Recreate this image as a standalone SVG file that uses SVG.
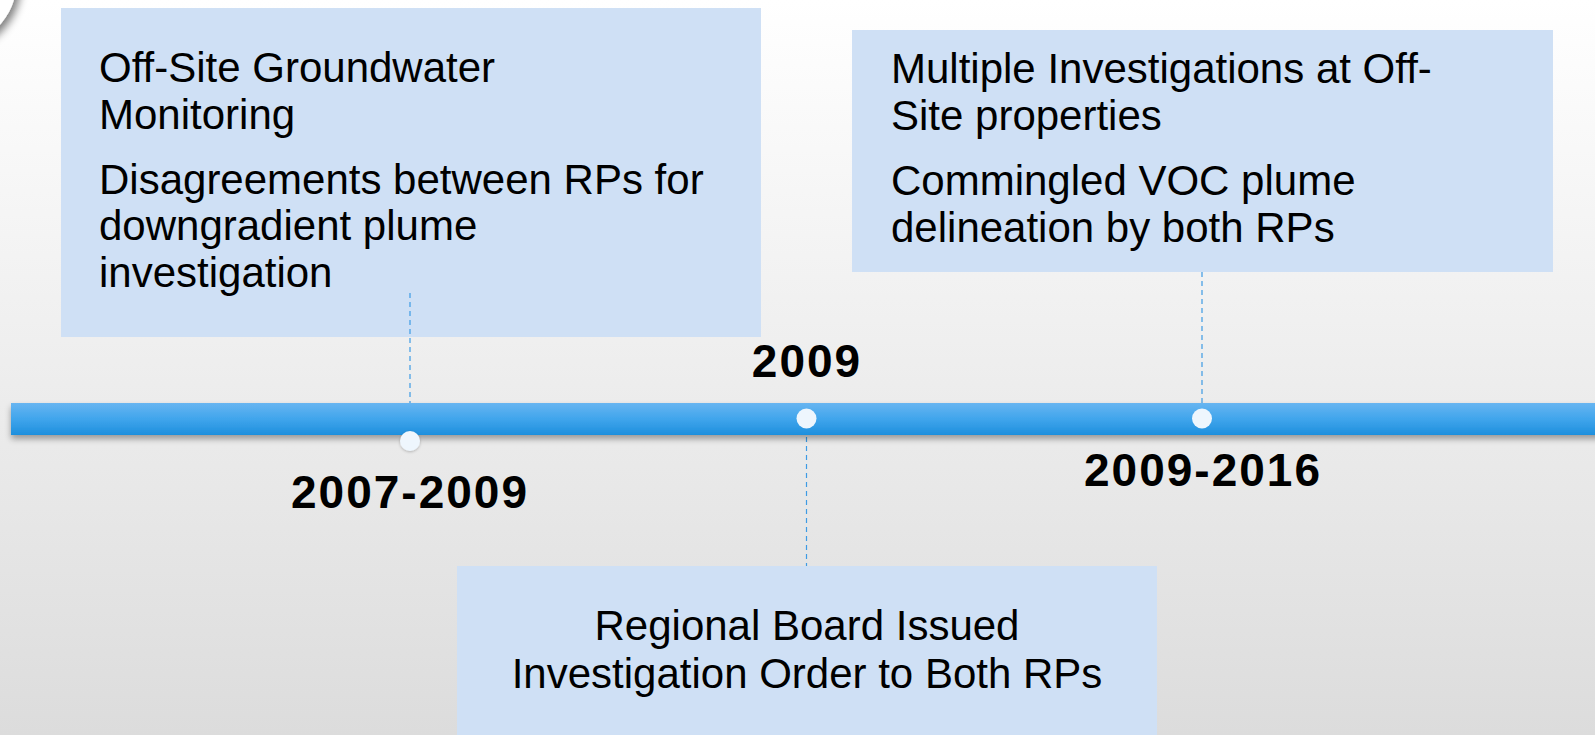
<svg xmlns="http://www.w3.org/2000/svg" width="1595" height="735" viewBox="0 0 1595 735">
  <defs>
    <linearGradient id="bg" x1="0" y1="0" x2="0" y2="1">
      <stop offset="0" stop-color="#ffffff"/>
      <stop offset="0.55" stop-color="#ececec"/>
      <stop offset="1" stop-color="#dcdcdc"/>
    </linearGradient>
    <linearGradient id="barFill" x1="0" y1="0" x2="0" y2="1">
      <stop offset="0" stop-color="#68b5f1"/>
      <stop offset="0.5" stop-color="#40a5ec"/>
      <stop offset="1" stop-color="#1e8fdd"/>
    </linearGradient>
    <filter id="barShadow" x="-5%" y="-50%" width="110%" height="220%">
      <feGaussianBlur in="SourceAlpha" stdDeviation="3"/>
      <feOffset dx="0" dy="4" result="b"/>
      <feComponentTransfer><feFuncA type="linear" slope="0.35"/></feComponentTransfer>
      <feMerge><feMergeNode/><feMergeNode in="SourceGraphic"/></feMerge>
    </filter>
    <filter id="cornerShadow" x="-50%" y="-50%" width="200%" height="200%">
      <feGaussianBlur in="SourceAlpha" stdDeviation="4"/>
      <feOffset dx="4" dy="4" result="b"/>
      <feComponentTransfer><feFuncA type="linear" slope="0.5"/></feComponentTransfer>
      <feMerge><feMergeNode/><feMergeNode in="SourceGraphic"/></feMerge>
    </filter>
    <filter id="dotShadow" x="-50%" y="-50%" width="200%" height="200%">
      <feGaussianBlur in="SourceAlpha" stdDeviation="1.5"/>
      <feOffset dx="0" dy="1" result="b"/>
      <feComponentTransfer><feFuncA type="linear" slope="0.25"/></feComponentTransfer>
      <feMerge><feMergeNode/><feMergeNode in="SourceGraphic"/></feMerge>
    </filter>
    <style>
      .box { fill: #cfe0f5; }
      .body { font-family: "Liberation Sans", Arial, sans-serif; font-size: 42px; fill: #000000; }
      .year { font-family: "Liberation Sans", Arial, sans-serif; font-size: 46px; font-weight: bold; letter-spacing: 2px; fill: #000000; text-anchor: middle; }
      .dash { stroke: #3d9be4; stroke-width: 1.2; stroke-dasharray: 5 4; fill: none; }
      .dot { fill: #eef6fd; }
    </style>
  </defs>

  <!-- page background -->
  <rect x="0" y="0" width="1595" height="735" fill="url(#bg)"/>

  <!-- curled corner ornament, top left -->
  <circle cx="-50" cy="-20" r="67" fill="#ffffff" filter="url(#cornerShadow)"/>

  <!-- event boxes -->
  <g id="event-2007">
    <rect class="box" x="61" y="8" width="700" height="329"/>
    <text class="body" x="99" y="82">Off-Site Groundwater</text>
    <text class="body" x="99" y="129">Monitoring</text>
    <text class="body" x="99" y="194">Disagreements between RPs for</text>
    <text class="body" x="99" y="240">downgradient plume</text>
    <text class="body" x="99" y="287">investigation</text>
  </g>

  <g id="event-2009-2016">
    <rect class="box" x="852" y="30" width="701" height="242"/>
    <text class="body" x="891" y="83">Multiple Investigations at Off-</text>
    <text class="body" x="891" y="130">Site properties</text>
    <text class="body" x="891" y="195">Commingled VOC plume</text>
    <text class="body" x="891" y="242">delineation by both RPs</text>
  </g>

  <g id="event-2009">
    <rect class="box" x="457" y="566" width="700" height="169"/>
    <text class="body" x="807" y="640" text-anchor="middle">Regional Board Issued</text>
    <text class="body" x="807" y="688" text-anchor="middle">Investigation Order to Both RPs</text>
  </g>

  <!-- connectors from boxes to the timeline -->
  <g id="connectors">
    <line class="dash" x1="410" y1="293" x2="410" y2="432"/>
    <line class="dash" x1="806.5" y1="428" x2="806.5" y2="566"/>
    <line class="dash" x1="1202" y1="272" x2="1202" y2="409"/>
  </g>

  <!-- timeline bar -->
  <g id="timeline">
    <rect x="11" y="403" width="1600" height="32" fill="url(#barFill)" filter="url(#barShadow)"/>
  </g>

  <!-- milestone markers -->
  <g id="marker-2007">
    <circle class="dot" cx="410" cy="441" r="10" filter="url(#dotShadow)"/>
    <text class="year" x="410" y="508">2007-2009</text>
  </g>
  <g id="marker-2009">
    <circle class="dot" cx="806.5" cy="418.5" r="10"/>
    <text class="year" x="807" y="377">2009</text>
  </g>
  <g id="marker-2009-2016">
    <circle class="dot" cx="1202" cy="418.5" r="10"/>
    <text class="year" x="1203" y="486">2009-2016</text>
  </g>
</svg>
